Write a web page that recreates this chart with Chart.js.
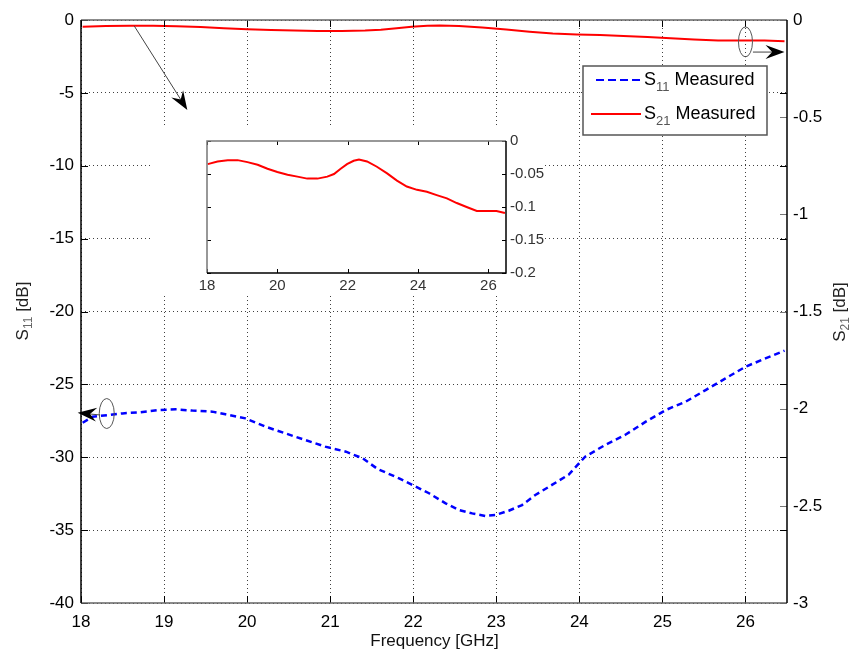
<!DOCTYPE html>
<html>
<head>
<meta charset="utf-8">
<script src="https://cdn.jsdelivr.net/npm/chart.js@4.4.1/dist/chart.umd.min.js"></script>
<style>
body { margin: 0; background: #fff; }
#wrap { position: relative; width: 856px; height: 656px; }
#inset { position: absolute; left: 153px; top: 125px; background: #fff; }
</style>
</head>
<body>
<div id="wrap">
<canvas id="main" width="856" height="656"></canvas>
<canvas id="inset" width="392" height="170"></canvas>
</div>
<script>
// S11 measured (left axis, dB)
const freqS11 = [18.02, 18.14, 18.34, 18.5, 18.7, 18.94, 19.14, 19.34, 19.58, 19.74, 19.98,
  20.22, 20.46, 20.7, 20.94, 21.19, 21.39, 21.57, 21.83, 21.99, 22.19, 22.39, 22.55, 22.71,
  22.87, 22.99, 23.15, 23.31, 23.47, 23.67, 23.87, 24.07, 24.31, 24.55, 24.8, 25.04, 25.28,
  25.52, 25.76, 26.0, 26.24, 26.47];
const s11 = [-27.63, -27.22, -27.1, -26.99, -26.92, -26.76, -26.71, -26.8, -26.87, -27.05, -27.33,
  -27.9, -28.36, -28.82, -29.27, -29.62, -30.07, -30.8, -31.45, -31.9, -32.47, -33.16, -33.62, -33.85,
  -34.03, -33.96, -33.67, -33.28, -32.59, -31.9, -31.2, -29.96, -29.16, -28.47, -27.56, -26.76, -26.19,
  -25.39, -24.59, -23.79, -23.22, -22.69];

// S21 measured (right axis, dB)
const freqS21 = [18.02, 18.3, 18.59, 18.87, 19.15, 19.44, 19.72, 20.0, 20.29, 20.57, 20.85, 21.14,
  21.42, 21.61, 21.8, 21.98, 22.17, 22.32, 22.55, 22.83, 23.12, 23.4, 23.68, 23.97, 24.25, 24.53,
  24.82, 25.1, 25.38, 25.67, 25.95, 26.23, 26.47];
const s21 = [-0.035, -0.031, -0.029, -0.029, -0.032, -0.036, -0.042, -0.047, -0.051, -0.054, -0.057, -0.057,
  -0.054, -0.05, -0.042, -0.035, -0.03, -0.028, -0.031, -0.039, -0.049, -0.06, -0.069, -0.074, -0.077, -0.082,
  -0.087, -0.094, -0.1, -0.106, -0.106, -0.106, -0.109];

const xTicks = [18, 19, 20, 21, 22, 23, 24, 25, 26];
const yLeftTicks = [0, -5, -10, -15, -20, -25, -30, -35, -40];
const yRightTicks = [0, -0.5, -1, -1.5, -2, -2.5, -3];
const insetXTicks = [18, 20, 22, 24, 26];
const insetYTicks = [0, -0.05, -0.1, -0.15, -0.2];

const FONT = "'Liberation Sans', Arial, sans-serif";
Chart.defaults.font.family = FONT;

function pts(xs, ys) { return xs.map((v, i) => ({x: v, y: ys[i]})); }
function setTicks(list) { return s => { s.ticks = list.map(v => ({value: v})); }; }
const plain = v => String(v);

// text with subscript, parts: [text, size, dy, color]
function drawParts(ctx, parts, cx, cy, rot, align) {
  ctx.save();
  ctx.translate(cx, cy);
  if (rot) ctx.rotate(rot);
  let w = 0;
  parts.forEach(p => { ctx.font = p[1] + 'px ' + FONT; w += ctx.measureText(p[0]).width; });
  let px = align === 'left' ? 0 : -w / 2;
  ctx.textBaseline = 'middle';
  ctx.textAlign = 'left';
  parts.forEach(p => {
    ctx.font = p[1] + 'px ' + FONT;
    ctx.fillStyle = p[3];
    ctx.fillText(p[0], px, p[2]);
    px += ctx.measureText(p[0]).width;
  });
  ctx.restore();
}

function arrow(ctx, x1, y1, x2, y2, len, half) {
  const ang = Math.atan2(y2 - y1, x2 - x1);
  ctx.strokeStyle = '#444';
  ctx.lineWidth = 1;
  ctx.beginPath();
  ctx.moveTo(x1, y1);
  ctx.lineTo(x2 - Math.cos(ang) * len * 0.6, y2 - Math.sin(ang) * len * 0.6);
  ctx.stroke();
  ctx.fillStyle = '#000';
  ctx.save();
  ctx.translate(x2, y2);
  ctx.rotate(ang);
  ctx.beginPath();
  ctx.moveTo(0, 0);
  ctx.lineTo(-len, -half);
  ctx.lineTo(-len * 0.65, 0);
  ctx.lineTo(-len, half);
  ctx.closePath();
  ctx.fill();
  ctx.restore();
}

const decor = {
  id: 'decor',
  afterDraw(chart) {
    const {ctx, chartArea: a, scales} = chart;
    const x = scales.x, y = scales.y, y2 = scales.y2;
    ctx.save();
    // inward ticks
    ctx.lineWidth = 1;
    ctx.strokeStyle = '#000';
    ctx.beginPath();
    xTicks.forEach(v => {
      const px = Math.round(x.getPixelForValue(v)) + 0.5;
      ctx.moveTo(px, a.bottom); ctx.lineTo(px, a.bottom - 7);
      ctx.moveTo(px, a.top); ctx.lineTo(px, a.top + 7);
    });
    yLeftTicks.forEach(v => {
      const py = Math.round(y.getPixelForValue(v)) + 0.5;
      ctx.moveTo(a.left, py); ctx.lineTo(a.left + 7, py);
      ctx.moveTo(a.right, py); ctx.lineTo(a.right - 7, py);
    });
    ctx.stroke();
    ctx.strokeStyle = '#777';
    ctx.beginPath();
    yRightTicks.forEach(v => {
      const py = Math.round(y2.getPixelForValue(v)) + 0.5;
      ctx.moveTo(a.right, py); ctx.lineTo(a.right - 7, py);
    });
    ctx.stroke();
    // box
    ctx.lineWidth = 1.5;
    ctx.strokeStyle = '#666';
    ctx.beginPath();
    ctx.moveTo(a.left, a.top); ctx.lineTo(a.right, a.top);
    ctx.moveTo(a.left, a.bottom); ctx.lineTo(a.right, a.bottom);
    ctx.stroke();
    ctx.strokeStyle = '#000';
    ctx.beginPath();
    ctx.moveTo(a.left, a.top); ctx.lineTo(a.left, a.bottom);
    ctx.moveTo(a.right, a.top); ctx.lineTo(a.right, a.bottom);
    ctx.stroke();

    // axis titles
    drawParts(ctx, [['Frequency [GHz]', 17, 0, '#111']], (a.left + a.right) / 2 + 0.5, 641, 0);
    drawParts(ctx, [['S', 17, 0, '#222'], ['11', 12, 6, '#666'], [' [dB]', 17, 0, '#222']], 23, 311, -Math.PI / 2);
    drawParts(ctx, [['S', 17, 0, '#222'], ['21', 12, 6, '#666'], [' [dB]', 17, 0, '#222']], 840, 312, -Math.PI / 2);

    // annotations
    ctx.strokeStyle = '#555';
    ctx.lineWidth = 1;
    ctx.beginPath();
    ctx.ellipse(x.getPixelForValue(26.0), y.getPixelForValue(-1.5), 7, 15, 0, 0, Math.PI * 2);
    ctx.stroke();
    ctx.beginPath();
    ctx.ellipse(x.getPixelForValue(18.31), y.getPixelForValue(-27.0), 7.5, 15, 0, 0, Math.PI * 2);
    ctx.stroke();
    arrow(ctx, x.getPixelForValue(18.64), y2.getPixelForValue(-0.03),
      x.getPixelForValue(19.28), y.getPixelForValue(-6.17), 19, 7);
    arrow(ctx, x.getPixelForValue(26.09), y.getPixelForValue(-2.2),
      x.getPixelForValue(26.47), y.getPixelForValue(-2.2), 19, 7);
    arrow(ctx, x.getPixelForValue(18.23), y.getPixelForValue(-27.1),
      x.getPixelForValue(17.96), y.getPixelForValue(-26.95), 19, 7);

    // legend
    ctx.fillStyle = '#fff';
    ctx.fillRect(583, 66, 184, 69);
    ctx.strokeStyle = '#555';
    ctx.lineWidth = 1.5;
    ctx.strokeRect(583, 66, 184, 69);
    ctx.lineWidth = 2;
    ctx.strokeStyle = '#0000ff';
    ctx.setLineDash([8, 4]);
    ctx.beginPath(); ctx.moveTo(596, 80); ctx.lineTo(641, 80); ctx.stroke();
    ctx.setLineDash([]);
    ctx.strokeStyle = '#ff0000';
    ctx.beginPath(); ctx.moveTo(591, 114); ctx.lineTo(641, 114); ctx.stroke();
    drawParts(ctx, [['S', 18, 0, '#000'], ['11', 13, 7, '#555'], [' Measured', 18, 0, '#000']], 644, 80, 0, 'left');
    drawParts(ctx, [['S', 18, 0, '#000'], ['21', 13, 7, '#555'], [' Measured', 18, 0, '#000']], 644, 114, 0, 'left');
    ctx.restore();
  }
};

const dotted = {color: 'rgba(0,0,0,0.75)', drawTicks: false, lineWidth: 1};

new Chart(document.getElementById('main'), {
  type: 'line',
  data: {
    datasets: [
      {
        label: 'S11 Measured',
        data: pts(freqS11, s11),
        yAxisID: 'y',
        borderColor: '#0000ff',
        borderWidth: 2.5,
        borderDash: [6, 4],
        pointRadius: 0,
        tension: 0
      },
      {
        label: 'S21 Measured',
        data: pts(freqS21, s21),
        yAxisID: 'y2',
        borderColor: '#ff0000',
        borderWidth: 2,
        pointRadius: 0,
        tension: 0
      }
    ]
  },
  options: {
    responsive: false,
    animation: false,
    layout: {padding: {top: 20, left: 0, right: 0, bottom: 0}},
    plugins: {legend: {display: false}, tooltip: {enabled: false}},
    scales: {
      x: {
        type: 'linear', min: 18, max: 26.5,
        afterBuildTicks: setTicks(xTicks),
        afterFit: s => { s.height = 53; },
        grid: dotted,
        border: {display: false, dash: [1, 3]},
        ticks: {color: '#000', font: {size: 17}, padding: 9, maxRotation: 0, callback: plain}
      },
      y: {
        position: 'left', min: -40, max: 0,
        afterBuildTicks: setTicks(yLeftTicks),
        afterFit: s => { s.width = 81; },
        grid: dotted,
        border: {display: false, dash: [1, 3]},
        ticks: {color: '#000', font: {size: 17}, padding: 7, callback: plain}
      },
      y2: {
        position: 'right', min: -3, max: 0,
        afterBuildTicks: setTicks(yRightTicks),
        afterFit: s => { s.width = 69; },
        grid: {display: false, drawTicks: false},
        border: {display: false},
        ticks: {color: '#000', font: {size: 17}, padding: 6, callback: plain}
      }
    }
  },
  plugins: [decor]
});

const insetDecor = {
  id: 'insetDecor',
  afterDraw(chart) {
    const {ctx, chartArea: a, scales} = chart;
    const x = scales.x, y = scales.y;
    ctx.save();
    ctx.lineWidth = 1;
    ctx.strokeStyle = '#000';
    ctx.beginPath();
    insetXTicks.forEach(v => {
      const px = Math.round(x.getPixelForValue(v)) + 0.5;
      ctx.moveTo(px, a.bottom); ctx.lineTo(px, a.bottom - 4);
      ctx.moveTo(px, a.top); ctx.lineTo(px, a.top + 4);
    });
    insetYTicks.forEach(v => {
      const py = Math.round(y.getPixelForValue(v)) + 0.5;
      ctx.moveTo(a.left, py); ctx.lineTo(a.left + 4, py);
      ctx.moveTo(a.right, py); ctx.lineTo(a.right - 4, py);
    });
    ctx.stroke();
    ctx.lineWidth = 1.5;
    ctx.strokeStyle = '#777';
    ctx.beginPath();
    ctx.moveTo(a.left, a.bottom); ctx.lineTo(a.left, a.top); ctx.lineTo(a.right, a.top);
    ctx.stroke();
    ctx.strokeStyle = '#000';
    ctx.beginPath();
    ctx.moveTo(a.left, a.bottom); ctx.lineTo(a.right, a.bottom); ctx.lineTo(a.right, a.top);
    ctx.stroke();
    ctx.restore();
  }
};

new Chart(document.getElementById('inset'), {
  type: 'line',
  data: {
    datasets: [{
      data: pts(freqS21, s21),
      borderColor: '#ff0000',
      borderWidth: 2,
      pointRadius: 0,
      tension: 0
    }]
  },
  options: {
    responsive: false,
    animation: false,
    layout: {padding: {top: 16, left: 54, right: 0, bottom: 0}},
    plugins: {legend: {display: false}, tooltip: {enabled: false}},
    scales: {
      x: {
        type: 'linear', min: 18, max: 26.5,
        afterBuildTicks: setTicks(insetXTicks),
        afterFit: s => { s.height = 22; },
        grid: {display: false, drawTicks: false},
        border: {display: false},
        ticks: {color: '#333', font: {size: 15}, padding: 4, maxRotation: 0, callback: plain}
      },
      y: {
        position: 'right', min: -0.2, max: 0,
        afterBuildTicks: setTicks(insetYTicks),
        afterFit: s => { s.width = 39; },
        grid: {display: false, drawTicks: false},
        border: {display: false},
        ticks: {color: '#333', font: {size: 15}, padding: 4, callback: plain}
      }
    }
  },
  plugins: [insetDecor]
});
</script>
</body>
</html>
